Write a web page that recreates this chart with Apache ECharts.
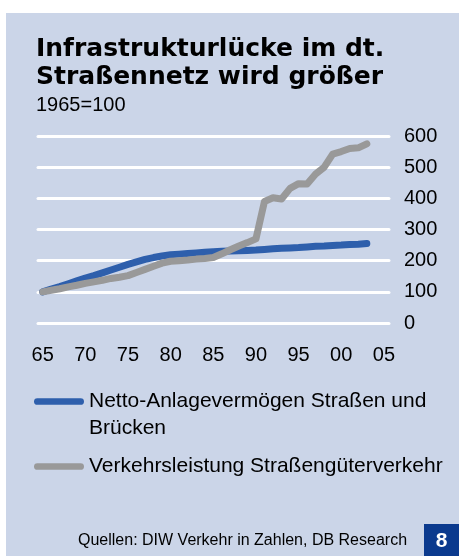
<!DOCTYPE html>
<html>
<head>
<meta charset="utf-8">
<script src="https://cdn.jsdelivr.net/npm/echarts@6/dist/echarts.min.js"></script>
<style>
  html, body { margin: 0; padding: 0; background: #fff; }
  #chart { width: 459px; height: 556px; }
</style>
</head>
<body>
<div id="chart"></div>
<script>
// Jahre 1965 - 2003, Index 1965=100
const years = [1965, 1966, 1967, 1968, 1969, 1970, 1971, 1972, 1973, 1974,
  1975, 1976, 1977, 1978, 1979, 1980, 1981, 1982, 1983, 1984,
  1985, 1986, 1987, 1988, 1989, 1990, 1991, 1992, 1993, 1994,
  1995, 1996, 1997, 1998, 1999, 2000, 2001, 2002, 2003];
const nettoAnlage = [100, 109, 117, 126, 135, 144, 152, 161, 170, 179,
  188, 196, 204, 210, 215, 219, 221, 223, 225, 227,
  229, 230, 231, 232, 233, 234, 236, 238, 240, 241,
  242, 244, 246, 247, 249, 250, 252, 253, 255];
const verkehrsleistung = [100, 105, 110, 116, 121, 127, 132, 137, 143, 147,
  152, 162, 172, 182, 192, 198, 200, 202, 205, 207,
  210, 222, 235, 247, 258, 270, 390, 402, 398, 432,
  447, 446, 478, 500, 542, 550, 560, 562, 575];
const xTicks = [1965, 1970, 1975, 1980, 1985, 1990, 1995, 2000, 2005];

const nameNetto = 'Netto-Anlagevermögen Straßen und Brücken';
const nameVerkehr = 'Verkehrsleistung Straßengüterverkehr';
const fontFam = '"Liberation Sans", Arial, sans-serif';
const lineIcon = 'path://M3.5,0 L48.5,0 A3.5,3.5 0 0 1 48.5,7 L3.5,7 A3.5,3.5 0 0 1 3.5,0 Z';

const myechart = echarts.init(document.getElementById('chart'));
const option = {
  animation: false,
  title: {
    text: 'Infrastrukturlücke im dt.\nStraßennetz wird größer',
    subtext: '1965=100',
    left: 36,
    top: 35,
    padding: 0,
    itemGap: 4,
    textStyle: {
      fontFamily: '"DejaVu Sans", sans-serif',
      fontWeight: 'bold',
      fontSize: 25,
      lineHeight: 28,
      color: '#000',
    },
    subtextStyle: {
      fontFamily: fontFam,
      fontSize: 20,
      lineHeight: 20,
      color: '#000',
    },
  },
  legend: [
    {
      data: [nameNetto],
      orient: 'vertical',
      left: 34,
      top: 361,
      padding: 0,
      icon: lineIcon,
      itemWidth: 50,
      itemHeight: 7,
      // leere erste Zeile, damit die erste Textzeile neben dem Symbol steht
      formatter: (n) => '\n' + n.replace(' und ', ' und\n'),
      textStyle: {
        fontFamily: fontFam,
        fontSize: 21,
        lineHeight: 27,
        color: '#000',
      },
    },
    {
      data: [nameVerkehr],
      orient: 'vertical',
      left: 34,
      top: 453,
      padding: 0,
      icon: lineIcon,
      itemWidth: 50,
      itemHeight: 7,
      textStyle: {
        fontFamily: fontFam,
        fontSize: 21,
        lineHeight: 27,
        color: '#000',
      },
    },
  ],
  grid: {
    left: 38,
    right: 70,
    top: 136,
    bottom: 233,
  },
  xAxis: {
    type: 'value',
    min: 1964.45,
    max: 2005.6,
    axisLine: { show: false },
    axisTick: { show: false },
    splitLine: { show: false },
    axisLabel: {
      customValues: xTicks,
      margin: 22,
      fontFamily: fontFam,
      fontSize: 20,
      color: '#000',
      formatter: (v) => String(v % 100).padStart(2, '0'),
    },
  },
  yAxis: {
    type: 'value',
    position: 'right',
    min: 0,
    max: 600,
    interval: 100,
    axisLine: { show: false },
    axisTick: { show: false },
    splitLine: {
      lineStyle: { color: '#fff', width: 3, cap: 'round' },
    },
    axisLabel: {
      margin: 15,
      fontFamily: fontFam,
      fontSize: 20,
      color: '#000',
    },
  },
  series: [
    {
      name: nameNetto,
      type: 'line',
      data: years.map((y, i) => [y, nettoAnlage[i]]),
      showSymbol: false,
      color: '#2e5fac',
      lineStyle: { width: 7, cap: 'round', join: 'round' },
      z: 2,
    },
    {
      name: nameVerkehr,
      type: 'line',
      data: years.map((y, i) => [y, verkehrsleistung[i]]),
      showSymbol: false,
      color: '#999999',
      lineStyle: { width: 7, cap: 'round', join: 'round' },
      z: 3,
    },
  ],
  graphic: [
    {
      type: 'rect',
      z: -10,
      shape: { x: 6, y: 13, width: 453, height: 543 },
      style: { fill: '#cbd5e8' },
    },
    {
      type: 'text',
      x: 78,
      y: 541,
      style: {
        text: 'Quellen: DIW Verkehr in Zahlen, DB Research',
        font: '16px "Liberation Sans", Arial, sans-serif',
        fill: '#000',
        verticalAlign: 'middle',
      },
    },
    {
      type: 'rect',
      shape: { x: 424, y: 524, width: 35, height: 32 },
      style: { fill: '#0b3a8e' },
    },
    {
      type: 'text',
      x: 441.5,
      y: 541,
      style: {
        text: '8',
        font: 'bold 21px "Liberation Sans", Arial, sans-serif',
        fill: '#fff',
        align: 'center',
        verticalAlign: 'middle',
      },
    },
  ],
};
myechart.setOption(option);
window.addEventListener('resize', () => myechart.resize());
</script>
</body>
</html>
